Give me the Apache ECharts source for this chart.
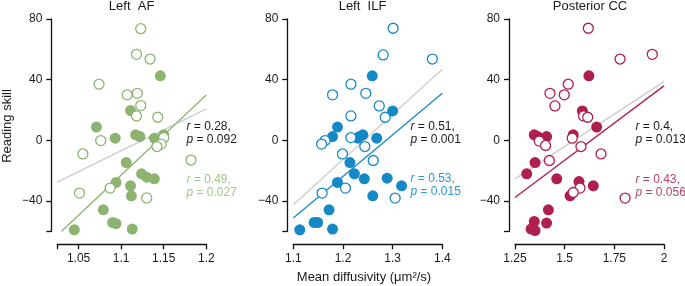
<!DOCTYPE html>
<html>
<head>
<meta charset="utf-8">
<script src="https://cdn.jsdelivr.net/npm/echarts@6/dist/echarts.min.js"></script>
<style>
  html, body { margin: 0; padding: 0; background: #fff; }
  #chart { width: 685px; height: 286px; }
</style>
</head>
<body>
<div id="chart"></div>
<script>
// values: [mean diffusivity, reading skill]
const afOpen = [[1.123, 73.6], [1.118, 56.7], [1.134, 53.6], [1.074, 37], [1.107, 30], [1.119, 31],
  [1.123, 22.9], [1.118, 16.1], [1.143, 15.2], [1.076, -0.2], [1.055, -9], [1.150, 1.8], [1.147, -2.5],
  [1.142, -4.1], [1.182, -13], [1.051, -34.8], [1.087, -31.5], [1.130, -38]];
const afFilled = [[1.146, 42.5], [1.111, 19.6], [1.071, 8.7], [1.093, 1.4], [1.117, 3.6], [1.122, 2.5],
  [1.139, 1.4], [1.150, 3.6], [1.106, -14.7], [1.124, -22.1], [1.130, -24.3], [1.139, -25.4], [1.094, -27.8],
  [1.111, -30], [1.112, -36.6], [1.079, -45.8], [1.090, -54.2], [1.094, -55], [1.113, -58.5], [1.045, -59]];
const afFitAll = [[1.025, -27.6], [1.2, 20.7]];
const afFitGroup = [[1.030, -60], [1.2, 29.9]];

const ilfOpen = [[1.301, 73.9], [1.281, 56.3], [1.380, 53.6], [1.216, 37], [1.246, 31], [1.179, 30],
  [1.273, 22.7], [1.285, 15.2], [1.216, 16.1], [1.216, 1.8], [1.164, -0.2], [1.157, -2.5], [1.244, -4.1],
  [1.199, -9], [1.261, -13.3], [1.158, -34.8], [1.205, -31.5], [1.305, -38.1]];
const ilfFilled = [[1.259, 42.5], [1.300, 19.4], [1.189, 8.7], [1.179, 2.5], [1.233, 2.5], [1.240, 3.6],
  [1.268, 1.4], [1.230, 1.4], [1.214, -14.7], [1.223, -22.1], [1.243, -25.4], [1.289, -25], [1.189, -27.8],
  [1.318, -30], [1.260, -36.6], [1.172, -45.8], [1.142, -54.2], [1.149, -54.2], [1.179, -58.5], [1.113, -59]];
const ilfFitAll = [[1.1, -42.5], [1.4, 46.9]];
const ilfFitGroup = [[1.1, -51.3], [1.4, 31]];

const ccOpen = [[1.619, 73.9], [1.941, 56.7], [1.779, 53.6], [1.518, 37], [1.426, 31], [1.498, 30],
  [1.451, 22.7], [1.595, 16.1], [1.616, 15.2], [1.538, 1.4], [1.372, -0.5], [1.404, -3.4], [1.582, -4.1],
  [1.683, -9], [1.423, -13.3], [1.577, -31.5], [1.543, -34.4], [1.804, -38.1]];
const ccFilled = [[1.622, 42.5], [1.589, 19.4], [1.661, 8.7], [1.347, 3.6], [1.364, 2.5], [1.409, 2.5],
  [1.543, 3.6], [1.376, 0.5], [1.351, -14.7], [1.309, -22.1], [1.460, -25.4], [1.572, -27.2], [1.644, -30],
  [1.527, -36.6], [1.418, -45.8], [1.347, -53.5], [1.409, -54.6], [1.331, -58.5], [1.351, -59.5]];
const ccFitAll = [[1.25, -25.4], [2, 38.7]];
const ccFitGroup = [[1.25, -37.7], [2, 35.9]];

const titles = ['Left  AF', 'Left  ILF', 'Posterior CC'];
const xRanges = [[1.025, 1.2], [1.1, 1.4], [1.25, 2]];
const xTicks = [[1.025, 1.05, 1.1, 1.15, 1.2], [1.1, 1.2, 1.3, 1.4], [1.25, 1.5, 1.75, 2]];
const xTickLabels = [[1.05, 1.1, 1.15, 1.2], [1.1, 1.2, 1.3, 1.4], [1.25, 1.5, 1.75, 2]];
const yTicks = [-60, -40, 0, 40, 80];
const yTickLabels = [-40, 0, 40, 80];
const statsAll = [['0.28', '0.092'], ['0.51', '0.001'], ['0.4', '0.013']];
const statsGroup = [['0.49', '0.027'], ['0.53', '0.015'], ['0.43', '0.056']];

const FONT = '"Liberation Sans", Arial, sans-serif';
const colors = ['#8cb370', '#1589c6', '#ae1f4e'];
const textColors = ['#a3c48b', '#2b98cf', '#b5416c'];
const gridLeft = [57.3, 293.3, 515];
const titleX = [131.6, 362.5, 590];
const statsX = [186.5, 410.5, 635.5];
const groupStatsY = [173, 172, 173];

const panels = [
  { open: afOpen, filled: afFilled, fitAll: afFitAll, fitGroup: afFitGroup },
  { open: ilfOpen, filled: ilfFilled, fitAll: ilfFitAll, fitGroup: ilfFitGroup },
  { open: ccOpen, filled: ccFilled, fitAll: ccFitAll, fitGroup: ccFitGroup }
];

const chart = echarts.init(document.getElementById('chart'));

const axisText = { color: '#1a1a1a', fontFamily: FONT, fontSize: 12 };
const fmtMinus = v => (v < 0 ? '\u2212' + (-v) : String(v));

const grid = [], xAxis = [], yAxis = [], series = [], graphic = [];

panels.forEach((p, i) => {
  grid.push({ left: gridLeft[i], top: 19, width: 149, height: 212.3 });

  xAxis.push({
    type: 'value', gridIndex: i, min: xRanges[i][0], max: xRanges[i][1], offset: 13,
    axisLine: { onZero: false, lineStyle: { color: '#111', width: 1.3 } },
    axisTick: { customValues: xTicks[i], length: 5, lineStyle: { color: '#111', width: 1.3 } },
    axisLabel: { customValues: xTickLabels[i], margin: 8, ...axisText },
    splitLine: { show: false }
  });
  yAxis.push({
    type: 'value', gridIndex: i, min: -60, max: 80, offset: 6,
    axisLine: { show: true, onZero: false, lineStyle: { color: '#111', width: 1.3 } },
    axisTick: { show: true, customValues: yTicks, length: 5, lineStyle: { color: '#111', width: 1.3 } },
    axisLabel: { customValues: yTickLabels, margin: 9, formatter: fmtMinus, ...axisText },
    splitLine: { show: false }
  });

  series.push({
    type: 'line', xAxisIndex: i, yAxisIndex: i, data: p.fitAll, symbol: 'none', silent: true,
    lineStyle: { color: '#cdcdcd', width: 1.3 }, z: 2
  });
  series.push({
    type: 'line', xAxisIndex: i, yAxisIndex: i, data: p.fitGroup, symbol: 'none', silent: true,
    lineStyle: { color: colors[i], width: 1.3 }, z: 2
  });
  series.push({
    type: 'scatter', xAxisIndex: i, yAxisIndex: i, data: p.filled, symbolSize: 11, clip: false,
    itemStyle: { color: colors[i], opacity: 1 }, z: 3
  });
  series.push({
    type: 'scatter', xAxisIndex: i, yAxisIndex: i, data: p.open, symbolSize: 10, clip: false,
    itemStyle: { color: '#fff', borderColor: colors[i], borderWidth: 1.3, opacity: 1 }, z: 4
  });

  graphic.push({
    type: 'text', x: titleX[i], y: 6.5,
    style: { text: titles[i], font: '13px ' + FONT, fill: '#1a1a1a', align: 'center', verticalAlign: 'middle',
      textAlign: 'center', textVerticalAlign: 'middle' }
  });

  const statText = (s, color) => ({
    text: '{i|r} = ' + s[0] + ',\n{i|p} = ' + s[1],
    font: '12px ' + FONT, fill: color, lineHeight: 13,
    rich: { i: { fontStyle: 'italic', fontFamily: FONT, fontSize: 12, fill: color, lineHeight: 13 } }
  });
  graphic.push({ type: 'text', x: statsX[i], y: 120, style: statText(statsAll[i], '#1a1a1a') });
  graphic.push({ type: 'text', x: statsX[i], y: groupStatsY[i], style: statText(statsGroup[i], textColors[i]) });
});

graphic.push({
  type: 'text', x: 7, y: 126, rotation: Math.PI / 2,
  style: { text: 'Reading skill', font: '13px ' + FONT, fill: '#1a1a1a', align: 'center', verticalAlign: 'middle',
    textAlign: 'center', textVerticalAlign: 'middle' }
});
graphic.push({
  type: 'text', x: 364, y: 277,
  style: { text: 'Mean diffusivity (\u03bcm\u00b2/s)', font: '13px ' + FONT, fill: '#1a1a1a', align: 'center',
    verticalAlign: 'middle', textAlign: 'center', textVerticalAlign: 'middle' }
});

chart.setOption({
  animation: false,
  backgroundColor: '#fff',
  grid: grid,
  xAxis: xAxis,
  yAxis: yAxis,
  series: series,
  graphic: graphic
});
</script>
</body>
</html>
